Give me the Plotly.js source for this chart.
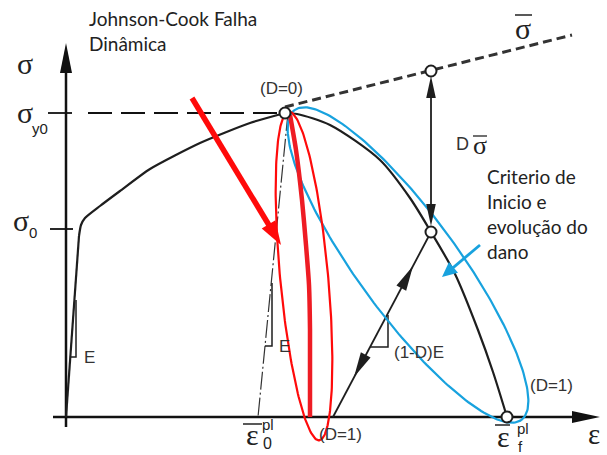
<!DOCTYPE html>
<html>
<head>
<meta charset="utf-8">
<script src="https://cdn.plot.ly/plotly-3.0.1.min.js"></script>
<style>html,body{margin:0;padding:0;background:#fff;}</style>
</head>
<body>
<div id="chart" style="width:607px;height:455px;"></div>
<script>
// Johnson-Cook damage schematic: equivalent plastic strain (x) vs. stress (y), arbitrary units

// elastic loading and hardening branch
const elasticStrain   = [0, 13];
const elasticStress   = [0, 181];
const hardeningStrain = [13, 15, 19, 34, 54, 84, 134, 184, 219];
const hardeningStress = [181, 192, 199, 211, 226, 248, 274, 294, 304];
// damaged (softening) branch from D=0 to D=1
const softeningStrain = [219, 231, 264, 314, 344, 365, 389, 412, 427, 441];
const softeningStress = [304, 303, 292, 257, 219, 185, 143, 87, 45, 0];
// undamaged response (sigma bar)
const undamagedStrain = [219, 506];
const undamagedStress = [310, 382];
// unloading with degraded stiffness (1-D)E
const unloadStrain = [365, 267];
const unloadStress = [185, 0];
// elastic unloading from D=0 down to eps0_pl
const elasticRefStrain = [222, 192];
const elasticRefStress = [304, 0];
// highlighted degradation path
const degradationStrain = [224, 230, 236, 240, 243, 244, 244];
const degradationStress = [302, 267, 217, 172, 132, 87, 0];
// state points: D=0, sigma bar, current damaged state, D=1
const markerStrain = [219, 365, 365, 441];
const markerStress = [304, 346, 185, 0];
// reference levels
const sigmaY0 = 304;
const sigma0 = 188;
// slope triangles
const triE1Strain = [4, 10, 10],   triE1Stress = [60, 60, 117];
const triE2Strain = [199, 206, 206], triE2Stress = [71, 71, 134];
const triDStrain = [304, 322, 322], triDStress = [70, 70, 102];
// highlight ellipses (centre, semi-axes, tilt in degrees)
const redEllipse  = {cx: 238, cy: 141, a: 165, b: 24, angle: 95.3};
const blueEllipse = {cx: 342, cy: 152, a: 192, b: 50, angle: -53.8};

const BLACK = '#1e1e1e';
const RED = '#ff0a0a';
const BLUE = '#18a2de';

function ellipsePts(e) {
  const th = e.angle * Math.PI / 180, xs = [], ys = [];
  for (let i = 0; i <= 240; i++) {
    const t = 2 * Math.PI * i / 240;
    xs.push(e.cx + e.a * Math.cos(th) * Math.cos(t) - e.b * Math.sin(th) * Math.sin(t));
    ys.push(e.cy + e.a * Math.sin(th) * Math.cos(t) + e.b * Math.cos(th) * Math.sin(t));
  }
  return {xs, ys};
}

// filled triangular arrow head with its tip at `tip`, pointing away from `tail`
function head(tip, tail, len, hw, color) {
  const dx = tip[0] - tail[0], dy = tip[1] - tail[1];
  const L = Math.hypot(dx, dy), ux = dx / L, uy = dy / L;
  const bx = tip[0] - ux * len, by = tip[1] - uy * len;
  const px = -uy * hw, py = ux * hw;
  return {
    type: 'path', xref: 'x', yref: 'y', layer: 'above',
    path: `M${tip[0]},${tip[1]} L${bx + px},${by + py} L${bx - px},${by - py} Z`,
    fillcolor: color, line: {width: 0}
  };
}
function backFrom(tip, tail, d) {
  const dx = tip[0] - tail[0], dy = tip[1] - tail[1];
  const L = Math.hypot(dx, dy);
  return [tip[0] - dx / L * d, tip[1] - dy / L * d];
}

function line(x, y, color, width, extra) {
  return Object.assign({type: 'scatter', mode: 'lines', x, y,
    line: {color, width}, hoverinfo: 'skip'}, extra || {});
}

const redEll = ellipsePts(redEllipse);
const blueEll = ellipsePts(blueEllipse);

// arrow geometry
const yAxisTip = [0, 374], xAxisTip = [534, 0];
const redArrowTail = [126, 319], redArrowTip = [215, 172];
const blueArrowTail = [414, 172], blueArrowTip = [376, 140];
const dTop = [365, 341], dBot = [365, 191];
const upTip = [347, 151], downTip = [288, 40];

const redShaftEnd = backFrom(redArrowTip, redArrowTail, 12);
const blueShaftEnd = backFrom(blueArrowTip, blueArrowTail, 8);

const traces = [
  // axes
  line([0, 0], [-10, 350], '#111', 2.5),
  line([-13, 510], [0, 0], '#111', 2.5),
  // reference level ticks and dashed sigma_y0 line
  line([-18, 6], [sigmaY0, sigmaY0], '#111', 1.8),
  line([22, 217], [sigmaY0, sigmaY0], '#111', 1.8, {line: {color: '#111', width: 1.8, dash: '24px,9px'}}),
  line([-16, 7], [sigma0, sigma0], '#111', 1.8),
  // stress-strain response
  line(elasticStrain, elasticStress, BLACK, 2.2),
  line(hardeningStrain, hardeningStress, BLACK, 2.2, {line: {color: BLACK, width: 2.2, shape: 'spline', smoothing: 0.6}}),
  line(softeningStrain, softeningStress, BLACK, 2.2, {line: {color: BLACK, width: 2.2, shape: 'spline', smoothing: 0.8}}),
  line(undamagedStrain, undamagedStress, '#333', 3, {line: {color: '#333', width: 3, dash: '9px,5px'}}),
  line(elasticRefStrain, elasticRefStress, '#333', 1.2, {line: {color: '#333', width: 1.2, dash: '18px,3px,2px,3px'}}),
  line(unloadStrain, unloadStress, BLACK, 1.8),
  // slope triangles
  line(triE1Strain, triE1Stress, BLACK, 1.5),
  line(triE2Strain, triE2Stress, BLACK, 1.5),
  line(triDStrain, triDStress, BLACK, 1.5),
  // D * sigma bar double arrow
  line([dTop[0], dBot[0]], [dTop[1] - 10, dBot[1] + 10], BLACK, 1.8),
  // highlights
  line(blueEll.xs, blueEll.ys, BLUE, 2.2),
  line(redEll.xs, redEll.ys, RED, 2.2),
  line(degradationStrain, degradationStress, '#ee1c24', 4.5, {line: {color: '#ee1c24', width: 4.5, shape: 'spline', smoothing: 0.6}}),
  line([redArrowTail[0], redShaftEnd[0]], [redArrowTail[1], redShaftEnd[1]], RED, 5.5),
  line([blueArrowTail[0], blueShaftEnd[0]], [blueArrowTail[1], blueShaftEnd[1]], BLUE, 2.8),
  // state points
  {type: 'scatter', mode: 'markers', x: markerStrain, y: markerStress, hoverinfo: 'skip',
   marker: {size: 11, color: '#fff', line: {color: BLACK, width: 2}}}
];

const shapes = [
  head(yAxisTip, [0, 0], 30, 6, '#111'),
  head(xAxisTip, [0, 0], 28, 6, '#111'),
  head(dTop, dBot, 22, 4.8, BLACK),
  head(dBot, dTop, 22, 4.8, BLACK),
  head(upTip, [unloadStrain[1], unloadStress[1]], 25, 5.5, BLACK),
  head(downTip, [unloadStrain[0], unloadStress[0]], 25, 5.5, BLACK),
  head(redArrowTip, redArrowTail, 24, 8, RED),
  head(blueArrowTip, blueArrowTail, 15, 7, BLUE),
  // overlines for sigma bar and eps bar symbols
  {type: 'line', xref: 'x', yref: 'y', x0: 449, x1: 466, y0: 402, y1: 402, line: {color: '#222', width: 1.5}},
  {type: 'line', xref: 'x', yref: 'y', x0: 407, x1: 421, y0: 281, y1: 281, line: {color: '#222', width: 1.3}},
  {type: 'line', xref: 'x', yref: 'y', x0: 177, x1: 196, y0: -7, y1: -7, line: {color: '#222', width: 1.5}},
  {type: 'line', xref: 'x', yref: 'y', x0: 429, x1: 444, y0: -8, y1: -8, line: {color: '#222', width: 1.5}}
];

const SANS = 'Lato, "Open Sans", sans-serif';
const ARIAL = '"Liberation Sans", Arial, sans-serif';
const SERIF = '"Liberation Serif", "Times New Roman", serif';
function txt(text, x, y, family, size, anchor, color) {
  return {text, x, y, xref: 'x', yref: 'y', showarrow: false,
    xanchor: anchor || 'center', yanchor: 'middle',
    font: {family, size, color: color || '#222'}};
}

const annotations = [
  txt('Johnson-Cook Falha', 21, 398.5, SANS, 19, 'left'),
  txt('Dinâmica', 21, 374, SANS, 19, 'left'),
  txt('Criterio de', 419, 241, SANS, 19, 'left'),
  txt('Inicio e', 419, 216, SANS, 19, 'left'),
  txt('evolução do', 419, 191, SANS, 19, 'left'),
  txt('dano', 419, 166, SANS, 19, 'left'),
  txt('(D=0)', 215, 329, ARIAL, 17, 'center', '#333'),
  txt('(D=1)', 274, -17, ARIAL, 17, 'center', '#333'),
  txt('(D=1)', 485, 32, ARIAL, 17, 'center', '#333'),
  txt('(1-D)E', 353, 65, ARIAL, 17, 'center', '#333'),
  txt('E', 23, 60, ARIAL, 17, 'center', '#333'),
  txt('E', 218, 71, ARIAL, 17, 'center', '#333'),
  txt('D', 396, 273, ARIAL, 18, 'center', '#333'),
  txt('σ', 414, 272, SERIF, 26),
  txt('σ', 457, 389, SERIF, 30),
  txt('σ', -41, 354, SERIF, 30),
  txt('σ', -41, 305, SERIF, 30),
  txt('y0', -26, 289, ARIAL, 15),
  txt('σ', -45, 197, SERIF, 30),
  txt('0', -33, 185, ARIAL, 15),
  txt('ε', 186, -17, SERIF, 30),
  txt('pl', 202, -7, ARIAL, 15),
  txt('0', 201, -26, ARIAL, 16),
  txt('ε', 437, -19, SERIF, 30),
  txt('pl', 457, -11, ARIAL, 15),
  txt('f', 454, -29, ARIAL, 15),
  txt('ε', 528, -17, SERIF, 29)
];

const layout = {
  width: 607, height: 455,
  margin: {l: 0, r: 0, t: 0, b: 0},
  paper_bgcolor: '#fff', plot_bgcolor: '#fff',
  showlegend: false,
  xaxis: {range: [-66, 541], visible: false, fixedrange: true},
  yaxis: {range: [-38, 417], visible: false, fixedrange: true},
  shapes, annotations
};

Plotly.newPlot('chart', traces, layout, {staticPlot: true, displayModeBar: false});
</script>
</body>
</html>
